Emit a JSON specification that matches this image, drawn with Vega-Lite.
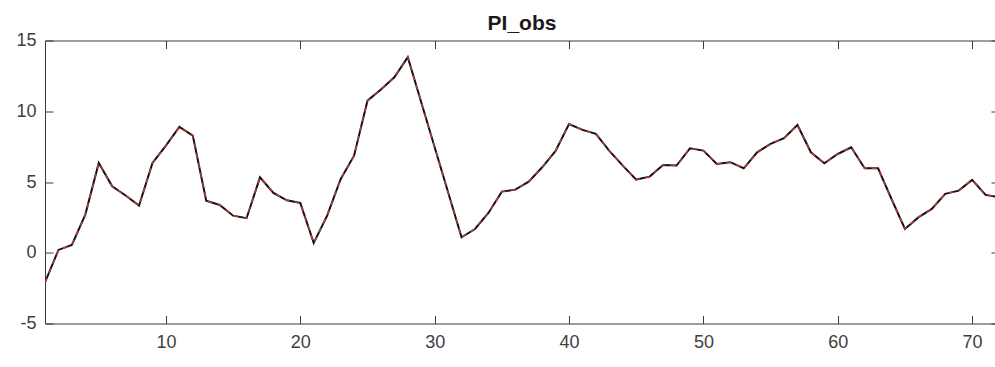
{
  "$schema": "https://vega.github.io/schema/vega-lite/v6.json",
  "autosize": "none",
  "padding": {"left": 45, "top": 40.5, "right": 0, "bottom": 44},
  "width": 954,
  "height": 283,
  "background": "white",
  "config": {
    "view": {"stroke": null},
    "font": "Liberation Sans",
    "axis": {
      "grid": false,
      "domainColor": "#3a3a3a",
      "domainWidth": 1,
      "tickColor": "#3a3a3a",
      "tickWidth": 1,
      "tickSize": -8,
      "labelColor": "#404040",
      "labelFont": "Liberation Sans",
      "labelFontSize": 18,
      "labelExpr": "'' + datum.value",
      "title": null
    }
  },
  "title": {
    "text": "PI_obs",
    "fontSize": 21,
    "fontWeight": "bold",
    "color": "#1a1a1a",
    "font": "Liberation Sans",
    "anchor": "middle",
    "offset": -2
  },
  "data": {
    "values": [
      {"t": 1, "v": -2.1}, {"t": 2, "v": 0.2}, {"t": 3, "v": 0.55}, {"t": 4, "v": 2.7},
      {"t": 5, "v": 6.35}, {"t": 6, "v": 4.7}, {"t": 7, "v": 4.05}, {"t": 8, "v": 3.33},
      {"t": 9, "v": 6.35}, {"t": 10, "v": 7.57}, {"t": 11, "v": 8.9}, {"t": 12, "v": 8.28},
      {"t": 13, "v": 3.68}, {"t": 14, "v": 3.38}, {"t": 15, "v": 2.62}, {"t": 16, "v": 2.44},
      {"t": 17, "v": 5.33}, {"t": 18, "v": 4.23}, {"t": 19, "v": 3.71}, {"t": 20, "v": 3.52},
      {"t": 21, "v": 0.69}, {"t": 22, "v": 2.62}, {"t": 23, "v": 5.2}, {"t": 24, "v": 6.86},
      {"t": 25, "v": 10.75}, {"t": 26, "v": 11.53}, {"t": 27, "v": 12.4}, {"t": 28, "v": 13.82},
      {"t": 29, "v": 10.64}, {"t": 30, "v": 7.46}, {"t": 31, "v": 4.28}, {"t": 32, "v": 1.09},
      {"t": 33, "v": 1.68}, {"t": 34, "v": 2.81}, {"t": 35, "v": 4.32}, {"t": 36, "v": 4.46},
      {"t": 37, "v": 5.02}, {"t": 38, "v": 6.04}, {"t": 39, "v": 7.2}, {"t": 40, "v": 9.1},
      {"t": 41, "v": 8.68}, {"t": 42, "v": 8.4}, {"t": 43, "v": 7.2}, {"t": 44, "v": 6.16},
      {"t": 45, "v": 5.17}, {"t": 46, "v": 5.38}, {"t": 47, "v": 6.2}, {"t": 48, "v": 6.16},
      {"t": 49, "v": 7.38}, {"t": 50, "v": 7.22}, {"t": 51, "v": 6.28}, {"t": 52, "v": 6.4},
      {"t": 53, "v": 5.97}, {"t": 54, "v": 7.1}, {"t": 55, "v": 7.69}, {"t": 56, "v": 8.09},
      {"t": 57, "v": 9.03}, {"t": 58, "v": 7.1}, {"t": 59, "v": 6.32}, {"t": 60, "v": 6.98},
      {"t": 61, "v": 7.45}, {"t": 62, "v": 5.97}, {"t": 63, "v": 5.97}, {"t": 64, "v": 3.8},
      {"t": 65, "v": 1.68}, {"t": 66, "v": 2.5}, {"t": 67, "v": 3.1}, {"t": 68, "v": 4.16},
      {"t": 69, "v": 4.39}, {"t": 70, "v": 5.15}, {"t": 71, "v": 4.09}, {"t": 72, "v": 3.92}
    ]
  },
  "layer": [
    {
      "mark": {"type": "line", "color": "#111111", "strokeWidth": 2, "clip": true},
      "encoding": {
        "x": {"field": "t", "type": "quantitative",
              "scale": {"domain": [1, 72], "nice": false, "zero": false},
              "axis": {"orient": "bottom", "values": [10, 20, 30, 40, 50, 60, 70], "labelPadding": 18}},
        "y": {"field": "v", "type": "quantitative",
              "scale": {"domain": [-5, 15], "nice": false, "zero": false},
              "axis": {"orient": "left", "values": [-5, 0, 5, 10, 15], "labelPadding": 17}}
      }
    },
    {
      "mark": {"type": "line", "color": "#f04848", "strokeWidth": 1.4, "strokeDash": [5, 5], "opacity": 0.75, "clip": true},
      "encoding": {
        "x": {"field": "t", "type": "quantitative",
              "axis": {"orient": "top", "values": [10, 20, 30, 40, 50, 60, 70], "labels": false}},
        "y": {"field": "v", "type": "quantitative",
              "axis": {"orient": "right", "values": [-5, 0, 5, 10, 15], "labels": false}}
      }
    }
  ],
  "resolve": {"axis": {"x": "independent", "y": "independent"}}
}
